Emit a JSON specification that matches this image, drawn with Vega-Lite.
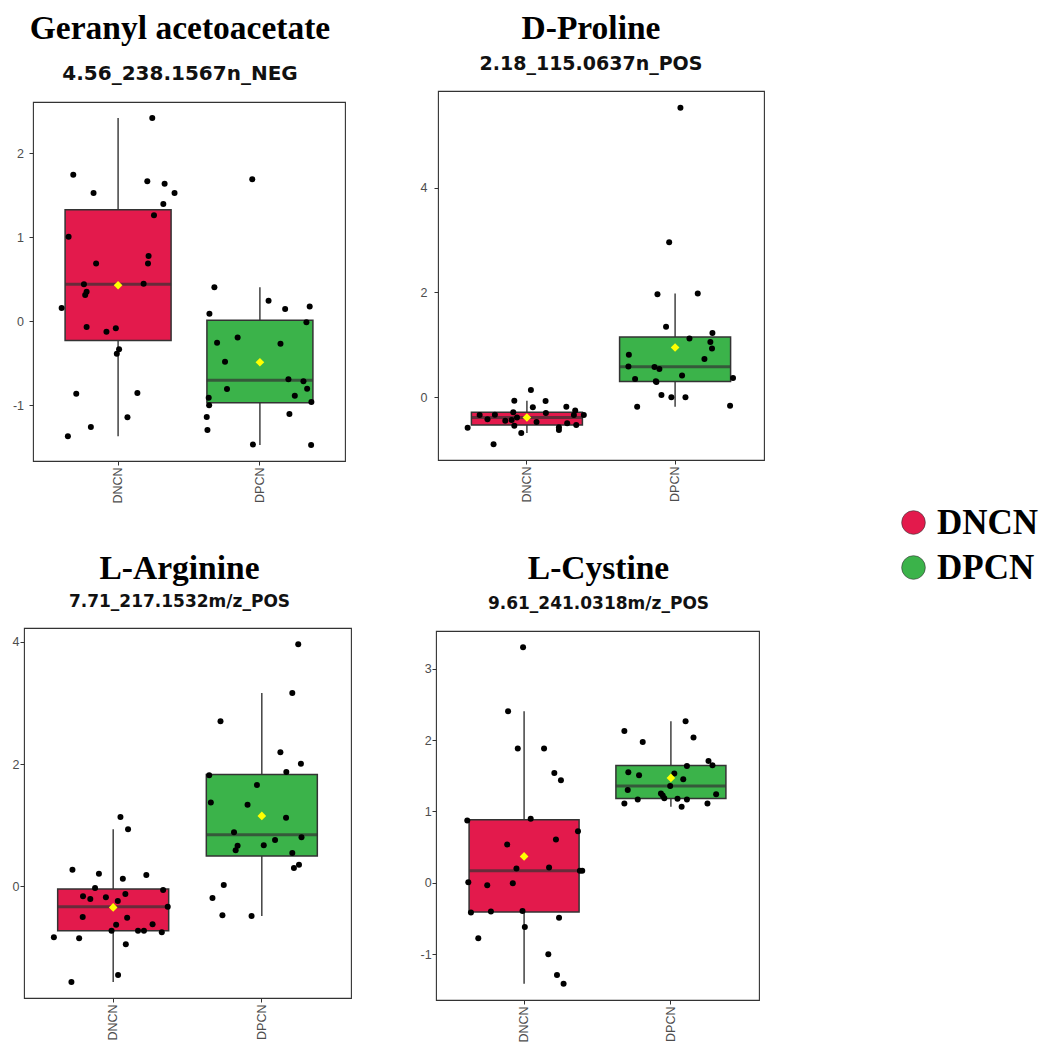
{
  "$schema": "https://vega.github.io/schema/vega-lite/v6.json",
  "padding": 0,
  "datasets": {
    "metabolites": [
      {"metabolite": "Geranyl acetoacetate", "group": "DNCN", "value": 2.421, "jitter": 0.241},
      {"metabolite": "Geranyl acetoacetate", "group": "DNCN", "value": 1.746, "jitter": -0.316},
      {"metabolite": "Geranyl acetoacetate", "group": "DNCN", "value": 1.528, "jitter": -0.173},
      {"metabolite": "Geranyl acetoacetate", "group": "DNCN", "value": 1.667, "jitter": 0.206},
      {"metabolite": "Geranyl acetoacetate", "group": "DNCN", "value": 1.639, "jitter": 0.328},
      {"metabolite": "Geranyl acetoacetate", "group": "DNCN", "value": 1.528, "jitter": 0.398},
      {"metabolite": "Geranyl acetoacetate", "group": "DNCN", "value": 1.397, "jitter": 0.319},
      {"metabolite": "Geranyl acetoacetate", "group": "DNCN", "value": 1.262, "jitter": 0.253},
      {"metabolite": "Geranyl acetoacetate", "group": "DNCN", "value": 1.008, "jitter": -0.349},
      {"metabolite": "Geranyl acetoacetate", "group": "DNCN", "value": 0.778, "jitter": 0.215},
      {"metabolite": "Geranyl acetoacetate", "group": "DNCN", "value": 0.687, "jitter": -0.155},
      {"metabolite": "Geranyl acetoacetate", "group": "DNCN", "value": 0.687, "jitter": 0.211},
      {"metabolite": "Geranyl acetoacetate", "group": "DNCN", "value": 0.440, "jitter": -0.241},
      {"metabolite": "Geranyl acetoacetate", "group": "DNCN", "value": 0.448, "jitter": 0.180},
      {"metabolite": "Geranyl acetoacetate", "group": "DNCN", "value": 0.353, "jitter": -0.222},
      {"metabolite": "Geranyl acetoacetate", "group": "DNCN", "value": 0.313, "jitter": -0.232},
      {"metabolite": "Geranyl acetoacetate", "group": "DNCN", "value": 0.159, "jitter": -0.398},
      {"metabolite": "Geranyl acetoacetate", "group": "DNCN", "value": -0.067, "jitter": -0.222},
      {"metabolite": "Geranyl acetoacetate", "group": "DNCN", "value": -0.123, "jitter": -0.082},
      {"metabolite": "Geranyl acetoacetate", "group": "DNCN", "value": -0.083, "jitter": -0.016},
      {"metabolite": "Geranyl acetoacetate", "group": "DNCN", "value": -0.333, "jitter": 0.007},
      {"metabolite": "Geranyl acetoacetate", "group": "DNCN", "value": -0.385, "jitter": -0.009},
      {"metabolite": "Geranyl acetoacetate", "group": "DNCN", "value": -0.861, "jitter": -0.295},
      {"metabolite": "Geranyl acetoacetate", "group": "DNCN", "value": -0.853, "jitter": 0.136},
      {"metabolite": "Geranyl acetoacetate", "group": "DNCN", "value": -1.143, "jitter": 0.066},
      {"metabolite": "Geranyl acetoacetate", "group": "DNCN", "value": -1.258, "jitter": -0.192},
      {"metabolite": "Geranyl acetoacetate", "group": "DNCN", "value": -1.369, "jitter": -0.354},
      {"metabolite": "Geranyl acetoacetate", "group": "DPCN", "value": 1.690, "jitter": -0.054},
      {"metabolite": "Geranyl acetoacetate", "group": "DPCN", "value": 0.405, "jitter": -0.321},
      {"metabolite": "Geranyl acetoacetate", "group": "DPCN", "value": 0.091, "jitter": -0.356},
      {"metabolite": "Geranyl acetoacetate", "group": "DPCN", "value": 0.246, "jitter": 0.061},
      {"metabolite": "Geranyl acetoacetate", "group": "DPCN", "value": 0.147, "jitter": 0.178},
      {"metabolite": "Geranyl acetoacetate", "group": "DPCN", "value": 0.175, "jitter": 0.351},
      {"metabolite": "Geranyl acetoacetate", "group": "DPCN", "value": -0.012, "jitter": 0.328},
      {"metabolite": "Geranyl acetoacetate", "group": "DPCN", "value": -0.254, "jitter": -0.302},
      {"metabolite": "Geranyl acetoacetate", "group": "DPCN", "value": -0.194, "jitter": -0.157},
      {"metabolite": "Geranyl acetoacetate", "group": "DPCN", "value": -0.266, "jitter": 0.145},
      {"metabolite": "Geranyl acetoacetate", "group": "DPCN", "value": -0.480, "jitter": -0.246},
      {"metabolite": "Geranyl acetoacetate", "group": "DPCN", "value": -0.690, "jitter": 0.201},
      {"metabolite": "Geranyl acetoacetate", "group": "DPCN", "value": -0.714, "jitter": 0.307},
      {"metabolite": "Geranyl acetoacetate", "group": "DPCN", "value": -0.806, "jitter": -0.232},
      {"metabolite": "Geranyl acetoacetate", "group": "DPCN", "value": -0.802, "jitter": 0.333},
      {"metabolite": "Geranyl acetoacetate", "group": "DPCN", "value": -0.885, "jitter": 0.246},
      {"metabolite": "Geranyl acetoacetate", "group": "DPCN", "value": -0.909, "jitter": -0.361},
      {"metabolite": "Geranyl acetoacetate", "group": "DPCN", "value": -1.000, "jitter": -0.358},
      {"metabolite": "Geranyl acetoacetate", "group": "DPCN", "value": -0.960, "jitter": 0.363},
      {"metabolite": "Geranyl acetoacetate", "group": "DPCN", "value": -1.103, "jitter": 0.208},
      {"metabolite": "Geranyl acetoacetate", "group": "DPCN", "value": -1.139, "jitter": -0.375},
      {"metabolite": "Geranyl acetoacetate", "group": "DPCN", "value": -1.294, "jitter": -0.370},
      {"metabolite": "Geranyl acetoacetate", "group": "DPCN", "value": -1.468, "jitter": -0.049},
      {"metabolite": "Geranyl acetoacetate", "group": "DPCN", "value": -1.472, "jitter": 0.361},

      {"metabolite": "D-Proline", "group": "DNCN", "value": -0.586, "jitter": -0.400},
      {"metabolite": "D-Proline", "group": "DNCN", "value": -0.344, "jitter": -0.319},
      {"metabolite": "D-Proline", "group": "DNCN", "value": -0.427, "jitter": -0.266},
      {"metabolite": "D-Proline", "group": "DNCN", "value": -0.905, "jitter": -0.225},
      {"metabolite": "D-Proline", "group": "DNCN", "value": -0.338, "jitter": -0.216},
      {"metabolite": "D-Proline", "group": "DNCN", "value": -0.452, "jitter": -0.146},
      {"metabolite": "D-Proline", "group": "DNCN", "value": -0.440, "jitter": -0.103},
      {"metabolite": "D-Proline", "group": "DNCN", "value": -0.293, "jitter": -0.092},
      {"metabolite": "D-Proline", "group": "DNCN", "value": -0.070, "jitter": -0.085},
      {"metabolite": "D-Proline", "group": "DNCN", "value": -0.548, "jitter": -0.085},
      {"metabolite": "D-Proline", "group": "DNCN", "value": -0.389, "jitter": -0.067},
      {"metabolite": "D-Proline", "group": "DNCN", "value": -0.686, "jitter": -0.038},
      {"metabolite": "D-Proline", "group": "DNCN", "value": 0.134, "jitter": 0.027},
      {"metabolite": "D-Proline", "group": "DNCN", "value": -0.197, "jitter": 0.040},
      {"metabolite": "D-Proline", "group": "DNCN", "value": -0.478, "jitter": 0.065},
      {"metabolite": "D-Proline", "group": "DNCN", "value": -0.076, "jitter": 0.126},
      {"metabolite": "D-Proline", "group": "DNCN", "value": -0.306, "jitter": 0.128},
      {"metabolite": "D-Proline", "group": "DNCN", "value": -0.580, "jitter": 0.216},
      {"metabolite": "D-Proline", "group": "DNCN", "value": -0.631, "jitter": 0.216},
      {"metabolite": "D-Proline", "group": "DNCN", "value": -0.185, "jitter": 0.266},
      {"metabolite": "D-Proline", "group": "DNCN", "value": -0.503, "jitter": 0.272},
      {"metabolite": "D-Proline", "group": "DNCN", "value": -0.344, "jitter": 0.317},
      {"metabolite": "D-Proline", "group": "DNCN", "value": -0.535, "jitter": 0.333},
      {"metabolite": "D-Proline", "group": "DNCN", "value": -0.258, "jitter": 0.326},
      {"metabolite": "D-Proline", "group": "DNCN", "value": -0.344, "jitter": 0.384},
      {"metabolite": "D-Proline", "group": "DPCN", "value": 5.535, "jitter": 0.036},
      {"metabolite": "D-Proline", "group": "DPCN", "value": 2.962, "jitter": -0.040},
      {"metabolite": "D-Proline", "group": "DPCN", "value": 1.968, "jitter": -0.119},
      {"metabolite": "D-Proline", "group": "DPCN", "value": 1.981, "jitter": 0.153},
      {"metabolite": "D-Proline", "group": "DPCN", "value": 1.344, "jitter": -0.061},
      {"metabolite": "D-Proline", "group": "DPCN", "value": 1.223, "jitter": 0.252},
      {"metabolite": "D-Proline", "group": "DPCN", "value": 1.121, "jitter": 0.097},
      {"metabolite": "D-Proline", "group": "DPCN", "value": 1.051, "jitter": 0.238},
      {"metabolite": "D-Proline", "group": "DPCN", "value": 0.930, "jitter": 0.249},
      {"metabolite": "D-Proline", "group": "DPCN", "value": 0.809, "jitter": -0.312},
      {"metabolite": "D-Proline", "group": "DPCN", "value": 0.726, "jitter": 0.198},
      {"metabolite": "D-Proline", "group": "DPCN", "value": 0.585, "jitter": -0.315},
      {"metabolite": "D-Proline", "group": "DPCN", "value": 0.575, "jitter": -0.139},
      {"metabolite": "D-Proline", "group": "DPCN", "value": 0.535, "jitter": -0.106},
      {"metabolite": "D-Proline", "group": "DPCN", "value": 0.344, "jitter": -0.270},
      {"metabolite": "D-Proline", "group": "DPCN", "value": 0.363, "jitter": 0.391},
      {"metabolite": "D-Proline", "group": "DPCN", "value": 0.302, "jitter": -0.130},
      {"metabolite": "D-Proline", "group": "DPCN", "value": 0.290, "jitter": -0.126},
      {"metabolite": "D-Proline", "group": "DPCN", "value": 0.414, "jitter": 0.047},
      {"metabolite": "D-Proline", "group": "DPCN", "value": 0.038, "jitter": -0.092},
      {"metabolite": "D-Proline", "group": "DPCN", "value": -0.006, "jitter": -0.025},
      {"metabolite": "D-Proline", "group": "DPCN", "value": -0.006, "jitter": 0.070},
      {"metabolite": "D-Proline", "group": "DPCN", "value": -0.185, "jitter": -0.256},
      {"metabolite": "D-Proline", "group": "DPCN", "value": -0.166, "jitter": 0.371},

      {"metabolite": "L-Arginine", "group": "DNCN", "value": 1.135, "jitter": 0.049},
      {"metabolite": "L-Arginine", "group": "DNCN", "value": 0.933, "jitter": 0.100},
      {"metabolite": "L-Arginine", "group": "DNCN", "value": 0.273, "jitter": -0.274},
      {"metabolite": "L-Arginine", "group": "DNCN", "value": 0.207, "jitter": -0.096},
      {"metabolite": "L-Arginine", "group": "DNCN", "value": 0.186, "jitter": 0.223},
      {"metabolite": "L-Arginine", "group": "DNCN", "value": 0.126, "jitter": 0.065},
      {"metabolite": "L-Arginine", "group": "DNCN", "value": -0.027, "jitter": -0.122},
      {"metabolite": "L-Arginine", "group": "DNCN", "value": -0.060, "jitter": 0.336},
      {"metabolite": "L-Arginine", "group": "DNCN", "value": -0.164, "jitter": -0.203},
      {"metabolite": "L-Arginine", "group": "DNCN", "value": -0.207, "jitter": -0.154},
      {"metabolite": "L-Arginine", "group": "DNCN", "value": -0.180, "jitter": -0.049},
      {"metabolite": "L-Arginine", "group": "DNCN", "value": -0.126, "jitter": 0.082},
      {"metabolite": "L-Arginine", "group": "DNCN", "value": -0.240, "jitter": 0.031},
      {"metabolite": "L-Arginine", "group": "DNCN", "value": -0.333, "jitter": 0.367},
      {"metabolite": "L-Arginine", "group": "DNCN", "value": -0.502, "jitter": -0.205},
      {"metabolite": "L-Arginine", "group": "DNCN", "value": -0.513, "jitter": 0.094},
      {"metabolite": "L-Arginine", "group": "DNCN", "value": -0.628, "jitter": 0.020},
      {"metabolite": "L-Arginine", "group": "DNCN", "value": -0.622, "jitter": 0.265},
      {"metabolite": "L-Arginine", "group": "DNCN", "value": -0.726, "jitter": -0.011},
      {"metabolite": "L-Arginine", "group": "DNCN", "value": -0.726, "jitter": 0.167},
      {"metabolite": "L-Arginine", "group": "DNCN", "value": -0.726, "jitter": 0.207},
      {"metabolite": "L-Arginine", "group": "DNCN", "value": -0.753, "jitter": 0.327},
      {"metabolite": "L-Arginine", "group": "DNCN", "value": -0.835, "jitter": -0.399},
      {"metabolite": "L-Arginine", "group": "DNCN", "value": -0.851, "jitter": -0.229},
      {"metabolite": "L-Arginine", "group": "DNCN", "value": -0.950, "jitter": 0.085},
      {"metabolite": "L-Arginine", "group": "DNCN", "value": -1.452, "jitter": 0.033},
      {"metabolite": "L-Arginine", "group": "DNCN", "value": -1.566, "jitter": -0.281},
      {"metabolite": "L-Arginine", "group": "DPCN", "value": 3.962, "jitter": 0.245},
      {"metabolite": "L-Arginine", "group": "DPCN", "value": 3.165, "jitter": 0.205},
      {"metabolite": "L-Arginine", "group": "DPCN", "value": 2.701, "jitter": -0.278},
      {"metabolite": "L-Arginine", "group": "DPCN", "value": 2.194, "jitter": 0.125},
      {"metabolite": "L-Arginine", "group": "DPCN", "value": 2.008, "jitter": 0.263},
      {"metabolite": "L-Arginine", "group": "DPCN", "value": 1.872, "jitter": 0.165},
      {"metabolite": "L-Arginine", "group": "DPCN", "value": 1.817, "jitter": -0.354},
      {"metabolite": "L-Arginine", "group": "DPCN", "value": 1.659, "jitter": -0.033},
      {"metabolite": "L-Arginine", "group": "DPCN", "value": 1.372, "jitter": -0.343},
      {"metabolite": "L-Arginine", "group": "DPCN", "value": 1.337, "jitter": -0.096},
      {"metabolite": "L-Arginine", "group": "DPCN", "value": 1.124, "jitter": 0.163},
      {"metabolite": "L-Arginine", "group": "DPCN", "value": 0.884, "jitter": -0.187},
      {"metabolite": "L-Arginine", "group": "DPCN", "value": 0.802, "jitter": 0.267},
      {"metabolite": "L-Arginine", "group": "DPCN", "value": 0.759, "jitter": 0.089},
      {"metabolite": "L-Arginine", "group": "DPCN", "value": 0.666, "jitter": -0.163},
      {"metabolite": "L-Arginine", "group": "DPCN", "value": 0.671, "jitter": 0.013},
      {"metabolite": "L-Arginine", "group": "DPCN", "value": 0.589, "jitter": -0.176},
      {"metabolite": "L-Arginine", "group": "DPCN", "value": 0.546, "jitter": 0.205},
      {"metabolite": "L-Arginine", "group": "DPCN", "value": 0.355, "jitter": 0.250},
      {"metabolite": "L-Arginine", "group": "DPCN", "value": 0.300, "jitter": 0.216},
      {"metabolite": "L-Arginine", "group": "DPCN", "value": 0.022, "jitter": -0.256},
      {"metabolite": "L-Arginine", "group": "DPCN", "value": -0.191, "jitter": -0.332},
      {"metabolite": "L-Arginine", "group": "DPCN", "value": -0.475, "jitter": -0.265},
      {"metabolite": "L-Arginine", "group": "DPCN", "value": -0.486, "jitter": -0.069},

      {"metabolite": "L-Cystine", "group": "DNCN", "value": 3.300, "jitter": -0.007},
      {"metabolite": "L-Cystine", "group": "DNCN", "value": 2.404, "jitter": -0.109},
      {"metabolite": "L-Cystine", "group": "DNCN", "value": 1.881, "jitter": -0.043},
      {"metabolite": "L-Cystine", "group": "DNCN", "value": 1.881, "jitter": 0.136},
      {"metabolite": "L-Cystine", "group": "DNCN", "value": 1.540, "jitter": 0.206},
      {"metabolite": "L-Cystine", "group": "DNCN", "value": 1.438, "jitter": 0.251},
      {"metabolite": "L-Cystine", "group": "DNCN", "value": 0.873, "jitter": -0.387},
      {"metabolite": "L-Cystine", "group": "DNCN", "value": 0.896, "jitter": 0.045},
      {"metabolite": "L-Cystine", "group": "DNCN", "value": 0.723, "jitter": 0.367},
      {"metabolite": "L-Cystine", "group": "DNCN", "value": 0.607, "jitter": 0.217},
      {"metabolite": "L-Cystine", "group": "DNCN", "value": 0.537, "jitter": -0.115},
      {"metabolite": "L-Cystine", "group": "DNCN", "value": 0.201, "jitter": -0.052},
      {"metabolite": "L-Cystine", "group": "DNCN", "value": 0.215, "jitter": 0.170},
      {"metabolite": "L-Cystine", "group": "DNCN", "value": 0.168, "jitter": 0.380},
      {"metabolite": "L-Cystine", "group": "DNCN", "value": 0.168, "jitter": 0.396},
      {"metabolite": "L-Cystine", "group": "DNCN", "value": 0.009, "jitter": -0.380},
      {"metabolite": "L-Cystine", "group": "DNCN", "value": -0.005, "jitter": -0.077},
      {"metabolite": "L-Cystine", "group": "DNCN", "value": -0.033, "jitter": -0.251},
      {"metabolite": "L-Cystine", "group": "DNCN", "value": -0.415, "jitter": -0.362},
      {"metabolite": "L-Cystine", "group": "DNCN", "value": -0.401, "jitter": -0.226},
      {"metabolite": "L-Cystine", "group": "DNCN", "value": -0.397, "jitter": -0.011},
      {"metabolite": "L-Cystine", "group": "DNCN", "value": -0.490, "jitter": 0.238},
      {"metabolite": "L-Cystine", "group": "DNCN", "value": -0.621, "jitter": 0.005},
      {"metabolite": "L-Cystine", "group": "DNCN", "value": -0.779, "jitter": -0.312},
      {"metabolite": "L-Cystine", "group": "DNCN", "value": -1.003, "jitter": 0.165},
      {"metabolite": "L-Cystine", "group": "DNCN", "value": -1.293, "jitter": 0.224},
      {"metabolite": "L-Cystine", "group": "DNCN", "value": -1.414, "jitter": 0.269},
      {"metabolite": "L-Cystine", "group": "DPCN", "value": 2.128, "jitter": -0.317},
      {"metabolite": "L-Cystine", "group": "DPCN", "value": 1.974, "jitter": -0.192},
      {"metabolite": "L-Cystine", "group": "DPCN", "value": 2.264, "jitter": 0.100},
      {"metabolite": "L-Cystine", "group": "DPCN", "value": 2.035, "jitter": 0.154},
      {"metabolite": "L-Cystine", "group": "DPCN", "value": 1.708, "jitter": 0.256},
      {"metabolite": "L-Cystine", "group": "DPCN", "value": 1.648, "jitter": 0.283},
      {"metabolite": "L-Cystine", "group": "DPCN", "value": 1.638, "jitter": 0.109},
      {"metabolite": "L-Cystine", "group": "DPCN", "value": 1.550, "jitter": -0.290},
      {"metabolite": "L-Cystine", "group": "DPCN", "value": 1.508, "jitter": -0.217},
      {"metabolite": "L-Cystine", "group": "DPCN", "value": 1.531, "jitter": 0.023},
      {"metabolite": "L-Cystine", "group": "DPCN", "value": 1.452, "jitter": 0.084},
      {"metabolite": "L-Cystine", "group": "DPCN", "value": 1.358, "jitter": -0.005},
      {"metabolite": "L-Cystine", "group": "DPCN", "value": 1.302, "jitter": -0.294},
      {"metabolite": "L-Cystine", "group": "DPCN", "value": 1.251, "jitter": -0.068},
      {"metabolite": "L-Cystine", "group": "DPCN", "value": 1.223, "jitter": -0.056},
      {"metabolite": "L-Cystine", "group": "DPCN", "value": 1.185, "jitter": -0.045},
      {"metabolite": "L-Cystine", "group": "DPCN", "value": 1.178, "jitter": 0.045},
      {"metabolite": "L-Cystine", "group": "DPCN", "value": 1.241, "jitter": 0.308},
      {"metabolite": "L-Cystine", "group": "DPCN", "value": 1.167, "jitter": -0.226},
      {"metabolite": "L-Cystine", "group": "DPCN", "value": 1.167, "jitter": 0.109},
      {"metabolite": "L-Cystine", "group": "DPCN", "value": 1.111, "jitter": -0.317},
      {"metabolite": "L-Cystine", "group": "DPCN", "value": 1.111, "jitter": 0.249},
      {"metabolite": "L-Cystine", "group": "DPCN", "value": 1.064, "jitter": 0.073}
    ]
  },
  "columns": 2,
  "align": "none",
  "spacing": {"row": 10, "column": 60},
  "resolve": {"scale": {"x": "independent", "y": "independent", "xOffset": "independent"}},
  "concat": [
    {"data": {"values": [{}]}, "mark": {"type": "point", "size": 0, "opacity": 0}, "width": 1, "height": 1, "view": {"stroke": null}},
    {"data": {"values": [{}]}, "mark": {"type": "point", "size": 0, "opacity": 0}, "width": 1, "height": 1, "view": {"stroke": null}},
    {
      "columns": 2,
      "align": "none",
      "spacing": {"row": 46, "column": 10},
      "resolve": {"scale": {"x": "independent", "y": "independent", "xOffset": "independent"}},
      "concat": [
        {"data": {"values": [{}]}, "mark": {"type": "point", "size": 0, "opacity": 0}, "width": 1, "height": 1, "view": {"stroke": null}},
        {
          "data": {"name": "metabolites"},
          "transform": [{"filter": "datum.metabolite === 'Geranyl acetoacetate'"}],
          "width": 312,
          "height": 359,
          "title": {"text": "Geranyl acetoacetate", "subtitle": "4.56_238.1567n_NEG", "subtitleFontSize": 20, "subtitlePadding": 17, "offset": 17.5, "dx": -9},
          "encoding": {
            "x": {"field": "group", "type": "nominal", "scale": {"domain": ["DNCN", "DPCN"], "paddingInner": 0, "paddingOuter": 0.1}, "axis": {"title": null}}
          },
          "layer": [
            {
              "mark": {"type": "boxplot", "extent": 1.5, "size": 106, "outliers": false,
                       "box": {"stroke": "#333333", "strokeWidth": 1.5},
                       "median": {"color": "#333333", "thickness": 3},
                       "rule": {"color": "#333333", "strokeWidth": 1.4}},
              "encoding": {
                "y": {"field": "value", "type": "quantitative", "scale": {"domain": [-1.663, 2.611], "nice": false, "zero": false},
                      "axis": {"title": null, "values": [-1, 0, 1, 2], "labelPadding": 5.5}},
                "color": {"field": "group", "type": "nominal",
                          "scale": {"domain": ["DNCN", "DPCN"], "range": ["#E31A4C", "#3BB34A"]},
                          "legend": {"orient": "none", "legendX": 896, "legendY": 505, "title": null, "symbolType": "circle", "symbolSize": 560,
                                     "symbolOpacity": 1, "symbolStrokeColor": "#555555", "symbolStrokeWidth": 0.6,
                                     "labelFont": "Liberation Serif", "labelFontSize": 35, "labelFontWeight": "bold", "labelColor": "#000000",
                                     "labelOffset": 6, "rowPadding": 9, "padding": 0}}
              }
            },
            {
              "mark": {"type": "point", "filled": true, "color": "#000000", "size": 36, "opacity": 1},
              "encoding": {
                "xOffset": {"field": "jitter", "type": "quantitative", "scale": {"domain": [-0.5, 0.5]}},
                "y": {"field": "value", "type": "quantitative", "axis": {"title": null}}
              }
            },
            {
              "mark": {"type": "point", "shape": "diamond", "filled": true, "color": "#FFFF00", "size": 75, "opacity": 1},
              "encoding": {
                "y": {"aggregate": "mean", "field": "value", "type": "quantitative", "axis": {"title": null}}
              }
            }
          ]
        },
        {"data": {"values": [{}]}, "mark": {"type": "point", "size": 0, "opacity": 0}, "width": 1, "height": 1, "view": {"stroke": null}},
        {
          "data": {"name": "metabolites"},
          "transform": [{"filter": "datum.metabolite === 'L-Arginine'"}],
          "width": 327,
          "height": 370,
          "title": {"text": "L-Arginine", "subtitle": "7.71_217.1532m/z_POS", "subtitleFontSize": 17, "subtitlePadding": 8, "offset": 17, "dx": -8},
          "encoding": {
            "x": {"field": "group", "type": "nominal", "scale": {"domain": ["DNCN", "DPCN"], "paddingInner": 0, "paddingOuter": 0.1}, "axis": {"title": null}}
          },
          "layer": [
            {
              "mark": {"type": "boxplot", "extent": 1.5, "size": 111, "outliers": false,
                       "box": {"stroke": "#333333", "strokeWidth": 1.5},
                       "median": {"color": "#333333", "thickness": 3},
                       "rule": {"color": "#333333", "strokeWidth": 1.4}},
              "encoding": {
                "y": {"field": "value", "type": "quantitative", "scale": {"domain": [-1.828, 4.229], "nice": false, "zero": false},
                      "axis": {"title": null, "values": [0, 2, 4], "labelPadding": 1}},
                "color": {"field": "group", "type": "nominal", "scale": {"domain": ["DNCN", "DPCN"], "range": ["#E31A4C", "#3BB34A"]}}
              }
            },
            {
              "mark": {"type": "point", "filled": true, "color": "#000000", "size": 36, "opacity": 1},
              "encoding": {
                "xOffset": {"field": "jitter", "type": "quantitative", "scale": {"domain": [-0.5, 0.5]}},
                "y": {"field": "value", "type": "quantitative", "axis": {"title": null}}
              }
            },
            {
              "mark": {"type": "point", "shape": "diamond", "filled": true, "color": "#FFFF00", "size": 75, "opacity": 1},
              "encoding": {
                "y": {"aggregate": "mean", "field": "value", "type": "quantitative", "axis": {"title": null}}
              }
            }
          ]
        }
      ]
    },
    {
      "columns": 2,
      "align": "none",
      "spacing": {"row": 48, "column": 6},
      "resolve": {"scale": {"x": "independent", "y": "independent", "xOffset": "independent"}},
      "concat": [
        {"data": {"values": [{}]}, "mark": {"type": "point", "size": 0, "opacity": 0}, "width": 1, "height": 1, "view": {"stroke": null}},
        {
          "data": {"name": "metabolites"},
          "transform": [{"filter": "datum.metabolite === 'D-Proline'"}],
          "width": 326,
          "height": 369,
          "title": {"text": "D-Proline", "subtitle": "2.18_115.0637n_POS", "subtitleFontSize": 19, "subtitlePadding": 8, "offset": 16.5, "dx": -10},
          "encoding": {
            "x": {"field": "group", "type": "nominal", "scale": {"domain": ["DNCN", "DPCN"], "paddingInner": 0, "paddingOuter": 0.1}, "axis": {"title": null}}
          },
          "layer": [
            {
              "mark": {"type": "boxplot", "extent": 1.5, "size": 111, "outliers": false,
                       "box": {"stroke": "#333333", "strokeWidth": 1.5},
                       "median": {"color": "#333333", "thickness": 3},
                       "rule": {"color": "#333333", "strokeWidth": 1.4}},
              "encoding": {
                "y": {"field": "value", "type": "quantitative", "scale": {"domain": [-1.204, 5.853], "nice": false, "zero": false},
                      "axis": {"title": null, "values": [0, 2, 4], "labelPadding": 7}},
                "color": {"field": "group", "type": "nominal", "scale": {"domain": ["DNCN", "DPCN"], "range": ["#E31A4C", "#3BB34A"]}}
              }
            },
            {
              "mark": {"type": "point", "filled": true, "color": "#000000", "size": 36, "opacity": 1},
              "encoding": {
                "xOffset": {"field": "jitter", "type": "quantitative", "scale": {"domain": [-0.5, 0.5]}},
                "y": {"field": "value", "type": "quantitative", "axis": {"title": null}}
              }
            },
            {
              "mark": {"type": "point", "shape": "diamond", "filled": true, "color": "#FFFF00", "size": 75, "opacity": 1},
              "encoding": {
                "y": {"aggregate": "mean", "field": "value", "type": "quantitative", "axis": {"title": null}}
              }
            }
          ]
        },
        {"data": {"values": [{}]}, "mark": {"type": "point", "size": 0, "opacity": 0}, "width": 1, "height": 1, "view": {"stroke": null}},
        {
          "data": {"name": "metabolites"},
          "transform": [{"filter": "datum.metabolite === 'L-Cystine'"}],
          "width": 323,
          "height": 369,
          "title": {"text": "L-Cystine", "subtitle": "9.61_241.0318m/z_POS", "subtitleFontSize": 17, "subtitlePadding": 9.6, "offset": 18.1, "dx": 1},
          "encoding": {
            "x": {"field": "group", "type": "nominal", "scale": {"domain": ["DNCN", "DPCN"], "paddingInner": 0, "paddingOuter": 0.1}, "axis": {"title": null}}
          },
          "layer": [
            {
              "mark": {"type": "boxplot", "extent": 1.5, "size": 110, "outliers": false,
                       "box": {"stroke": "#333333", "strokeWidth": 1.5},
                       "median": {"color": "#333333", "thickness": 3},
                       "rule": {"color": "#333333", "strokeWidth": 1.4}},
              "encoding": {
                "y": {"field": "value", "type": "quantitative", "scale": {"domain": [-1.643, 3.529], "nice": false, "zero": false},
                      "axis": {"title": null, "values": [-1, 0, 1, 2, 3], "labelPadding": 0.8}},
                "color": {"field": "group", "type": "nominal", "scale": {"domain": ["DNCN", "DPCN"], "range": ["#E31A4C", "#3BB34A"]}}
              }
            },
            {
              "mark": {"type": "point", "filled": true, "color": "#000000", "size": 36, "opacity": 1},
              "encoding": {
                "xOffset": {"field": "jitter", "type": "quantitative", "scale": {"domain": [-0.5, 0.5]}},
                "y": {"field": "value", "type": "quantitative", "axis": {"title": null}}
              }
            },
            {
              "mark": {"type": "point", "shape": "diamond", "filled": true, "color": "#FFFF00", "size": 75, "opacity": 1},
              "encoding": {
                "y": {"aggregate": "mean", "field": "value", "type": "quantitative", "axis": {"title": null}}
              }
            }
          ]
        }
      ]
    }
  ],
  "config": {
    "background": "#FFFFFF",
    "view": {"stroke": "#333333", "strokeWidth": 1.1},
    "axis": {"domain": false, "grid": false, "ticks": true, "tickColor": "#333333", "tickSize": 4, "tickWidth": 1,
             "labelFont": "Liberation Sans", "labelFontSize": 12.5, "labelColor": "#4D4D4D", "labelPadding": 3},
    "axisX": {"labelAngle": -90, "labelPadding": 2},
    "axisY": {"labelExpr": "'' + datum.value"},
    "title": {"font": "Liberation Serif", "fontSize": 33.5, "fontWeight": "bold", "color": "#000000",
              "subtitleFont": "DejaVu Sans", "subtitleFontWeight": "bold", "subtitleColor": "#111111",
              "anchor": "middle", "frame": "group"}
  }
}
